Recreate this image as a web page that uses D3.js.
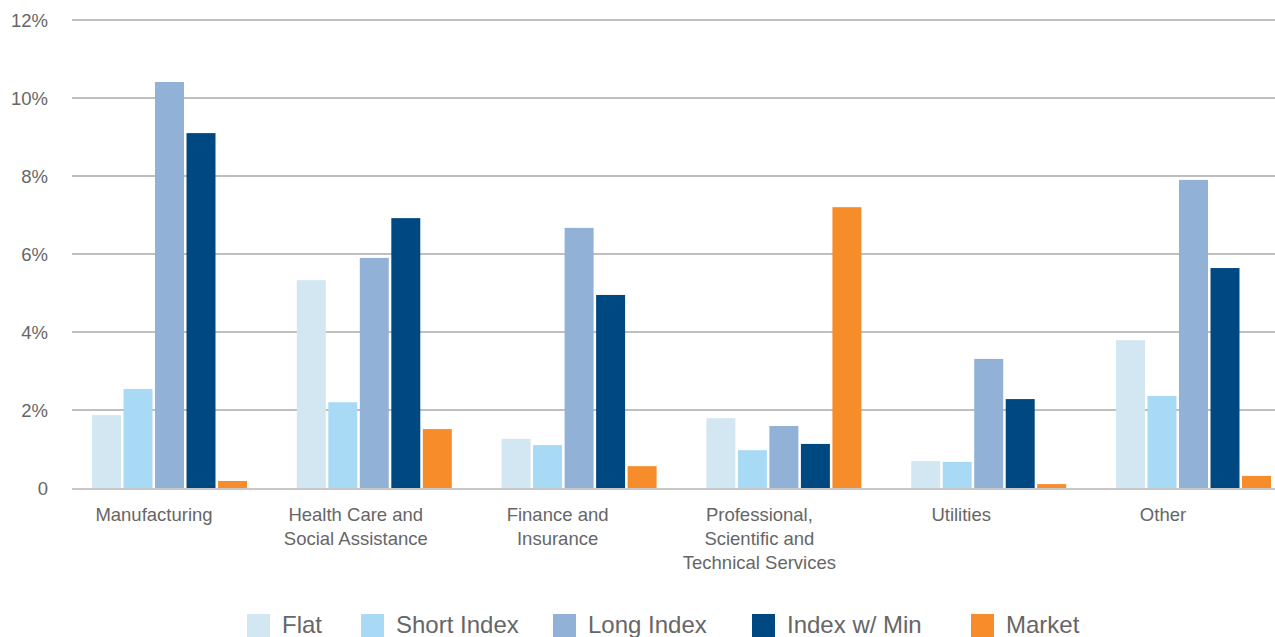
<!DOCTYPE html>
<html>
<head>
<meta charset="utf-8">
<script src="https://cdn.jsdelivr.net/npm/d3@7"></script>
<style>
  body { margin: 0; background: #fff; }
  svg { display: block; font-family: "Liberation Sans", Arial, sans-serif; }
</style>
</head>
<body>
<div id="chart"></div>
<script>
const categories = [
  ['Manufacturing'],
  ['Health Care and', 'Social Assistance'],
  ['Finance and', 'Insurance'],
  ['Professional,', 'Scientific and', 'Technical Services'],
  ['Utilities'],
  ['Other']
];
const series = ['Flat', 'Short Index', 'Long Index', 'Index w/ Min', 'Market'];
const flat       = [1.87, 5.33, 1.26, 1.79, 0.69, 3.79];
const shortIndex = [2.54, 2.20, 1.10, 0.97, 0.67, 2.36];
const longIndex  = [10.41, 5.90, 6.67, 1.59, 3.31, 7.90];
const indexMin   = [9.10, 6.92, 4.95, 1.13, 2.28, 5.64];
const market     = [0.18, 1.51, 0.56, 7.20, 0.10, 0.31];
const yTicks = [0, 2, 4, 6, 8, 10, 12];

const colors = ['#d3e7f3', '#a8daf5', '#91b1d7', '#004882', '#f78c2a'];
const values = [flat, shortIndex, longIndex, indexMin, market];

const width = 1275, height = 637;
const catNames = categories.map(c => c.join(' '));

const svg = d3.select('#chart').append('svg')
  .attr('width', width)
  .attr('height', height);

const y = d3.scaleLinear().domain([0, 12]).range([488, 20]);

// group bands, bars inside each group
const x0 = d3.scaleBand().domain(catNames).range([72, 72 + 6 * 204.8]);
const x1 = d3.scaleBand().domain(series).range([20, 175]).paddingInner(0.08);
// the category labels sit a little left of the bar groups
const xLabel = d3.scalePoint().domain(catNames).range([154, 1163]);

// gridlines
svg.append('g')
  .selectAll('line')
  .data(yTicks.filter(d => d > 0))
  .enter().append('line')
  .attr('x1', 72).attr('x2', width)
  .attr('y1', d => y(d)).attr('y2', d => y(d))
  .attr('stroke', '#aaaaaa')
  .attr('stroke-width', 1.5);

// y labels
svg.append('g')
  .selectAll('text')
  .data(yTicks)
  .enter().append('text')
  .attr('x', 48)
  .attr('y', d => y(d))
  .attr('dy', '0.36em')
  .attr('text-anchor', 'end')
  .attr('fill', '#666')
  .style('font-size', '18.5px')
  .text(d => d === 0 ? '0' : d + '%');

// bars
const groups = svg.append('g')
  .selectAll('g')
  .data(catNames)
  .enter().append('g')
  .attr('transform', d => `translate(${x0(d)},0)`);

groups.selectAll('rect')
  .data((c, i) => series.map((s, j) => ({ s, v: values[j][i], color: colors[j] })))
  .enter().append('rect')
  .attr('x', d => x1(d.s))
  .attr('width', x1.bandwidth())
  .attr('y', d => y(d.v))
  .attr('height', d => y(0) - y(d.v))
  .attr('fill', d => d.color);

// baseline
svg.append('line')
  .attr('x1', 72).attr('x2', width)
  .attr('y1', y(0) + 1).attr('y2', y(0) + 1)
  .attr('stroke', '#c8c8c8')
  .attr('stroke-width', 2);

// category labels
const labels = svg.append('g')
  .selectAll('text')
  .data(categories)
  .enter().append('text')
  .attr('text-anchor', 'middle')
  .attr('fill', '#666')
  .style('font-size', '18.5px');

labels.selectAll('tspan')
  .data(d => d.map(line => ({ line, key: d.join(' ') })))
  .enter().append('tspan')
  .attr('x', d => xLabel(d.key))
  .attr('y', (d, i) => 521 + i * 24)
  .text(d => d.line);

// legend
const legendX = [247, 361, 553, 752, 971];
const legend = svg.append('g')
  .selectAll('g')
  .data(series)
  .enter().append('g')
  .attr('transform', (d, i) => `translate(${legendX[i]},614)`);

legend.append('rect')
  .attr('width', 23).attr('height', 23)
  .attr('fill', (d, i) => colors[i]);

legend.append('text')
  .attr('x', 35)
  .attr('y', 19)
  .attr('fill', '#666')
  .style('font-size', '24px')
  .text(d => d);
</script>
</body>
</html>
